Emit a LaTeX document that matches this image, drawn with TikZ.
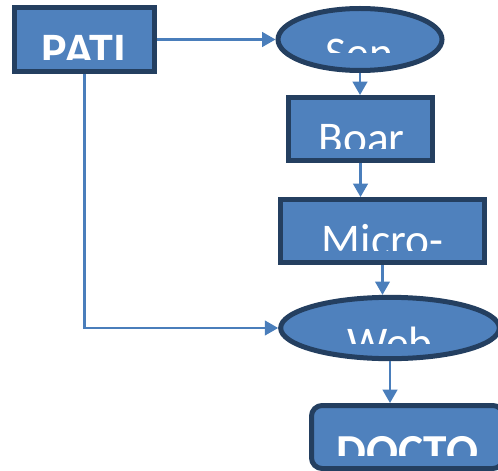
\documentclass[tikz,border=0pt]{standalone}
\usepackage{fontspec}
\setmainfont{Carlito}
\usetikzlibrary{arrows.meta,shapes.geometric}

\definecolor{boxfill}{HTML}{4F81BD}
\definecolor{boxline}{HTML}{243F60}
\definecolor{linkline}{HTML}{4A7EBB}

\begin{document}
\begin{tikzpicture}[x=0.75pt,y=-0.75pt,
  box/.style={draw=boxline,fill=boxfill,line width=3.75pt,inner sep=0pt},
  oval/.style={box,ellipse},
  link/.style={draw=linkline,line width=1.6pt,-{Triangle[length=10pt,width=11pt]}},
  word/.style={text=white,inner sep=0pt,anchor=base,font=\fontsize{34}{40}\selectfont}]

  \useasboundingbox (0,0) rectangle (498,470);

  % shapes
  \node[box,minimum width=105pt,minimum height=48pt] (pati) at (84.5,39.5) {};
  \node[oval,minimum width=123pt,minimum height=46.5pt] (sen) at (360,39.5) {};
  \node[box,minimum width=108pt,minimum height=47.25pt] (boar) at (360.5,129) {};
  \node[box,minimum width=153pt,minimum height=47.25pt] (micro) at (382.5,231) {};
  \node[oval,minimum width=164pt,minimum height=46pt] (web) at (390,328) {};
  \node[box,rounded corners=8pt,minimum width=144pt,minimum height=47.25pt] (docto) at (407.5,437) {};

  % texts, cut off below
  \begin{scope}
    \clip (0,0) rectangle (498,60);
    \node[word,font=\fontsize{36}{42}\selectfont\bfseries] (patitext) at (84,67) {PATI};
  \end{scope}
  \begin{scope}
    \clip (0,0) rectangle (498,53);
    \node[word] (sentext) at (359.5,68.5) {Sen};
  \end{scope}
  \begin{scope}
    \clip (0,0) rectangle (498,149);
    \node[word] (boartext) at (361.5,153.5) {Boar};
  \end{scope}
  \begin{scope}
    \clip (0,0) rectangle (498,250);
    \node[word] (microtext) at (382.5,255.5) {Micro-};
  \end{scope}
  \begin{scope}
    \clip (0,0) rectangle (498,343);
    \node[word] (webtext) at (390,358.5) {Web};
  \end{scope}
  \begin{scope}
    \clip (0,0) rectangle (498,455);
    \node[word,font=\fontsize{35.5}{42}\selectfont\bfseries] (doctotext) at (407.5,467) {DOCTO};
  \end{scope}

  % connectors
  \draw[link] (pati.east) -- (sen.west);
  \draw[link] (sen.south) -- (sen.south |- boar.north);
  \draw[link] (boar.south) -- (boar.south |- micro.north);
  \draw[link] (micro.south) -- (micro.south |- web.north);
  \draw[link] (pati.south) |- (web.west);
  \draw[link] (web.south) -- (web.south |- docto.north);
\end{tikzpicture}
\end{document}
